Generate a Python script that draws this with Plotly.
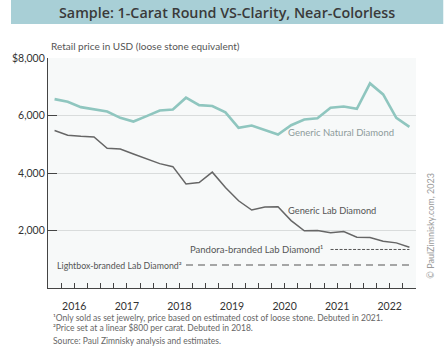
import plotly.graph_objects as go

# ---- data ----
quarters = [2016.125 + 0.25 * i for i in range(28)]
natural = [6570, 6477, 6291, 6221, 6140, 5919, 5791, 5977, 6174, 6209, 6620, 6360,
           6330, 6110, 5570, 5651, 5488, 5337, 5663, 5860, 5907, 6267, 6314, 6233,
           7116, 6733, 5919, 5605]
lab = [5477, 5314, 5279, 5256, 4860, 4837, 4663, 4488, 4326, 4221, 3616, 3670,
       4030, 3494, 3034, 2713, 2816, 2828, 2345, 1990, 2000, 1919, 1965, 1767,
       1756, 1628, 1570, 1419]
pandora_x = [2021.375, 2022.875]
pandora = [1340, 1340]
lightbox_x = [2018.625, 2022.875]
lightbox = [800, 800]

year_labels = ["2016", "2017", "2018", "2019", "2020", "2021", "2022"]
year_pos = [2016.5 + i for i in range(7)]
y_tickvals = [2000, 4000, 6000, 8000]
y_ticktext = ["2,000", "4,000", "6,000", "$8,000"]

FONT = "Lato"
W, H = 444, 363
L, R, T, B = 38, 28, 58, 75
PW, PH = W - L - R, H - T - B


def px(x):
    return (x - L) / PW


def py(y):
    return 1 - (y - T) / PH


fig = go.Figure()
fig.add_trace(go.Scatter(x=quarters, y=natural, mode="lines",
                         line=dict(color="#8fc6bf", width=2.6), hoverinfo="skip"))
fig.add_trace(go.Scatter(x=quarters, y=lab, mode="lines",
                         line=dict(color="#666666", width=1.5), hoverinfo="skip"))
fig.add_trace(go.Scatter(x=pandora_x, y=pandora, mode="lines",
                         line=dict(color="#555555", width=1, dash="3px,1.5px"), hoverinfo="skip"))
fig.add_trace(go.Scatter(x=lightbox_x, y=lightbox, mode="lines",
                         line=dict(color="#555555", width=1.2, dash="7px,5px"), hoverinfo="skip"))

# banner
fig.add_shape(type="rect", xref="paper", yref="paper",
              x0=px(0), x1=px(W), y0=py(24), y1=py(0),
              fillcolor="#a8cfd6", line=dict(width=0), layer="below")

anns = [
    dict(text="Sample: 1-Carat Round VS-Clarity, Near-Colorless", x=px(222), y=py(12.5),
         font=dict(size=14.3, color="#3a3a3a", family="Open Sans", weight=600)),
    dict(text="Retail price in USD (loose stone equivalent)", x=px(39), y=py(46), xanchor="left",
         font=dict(size=10, color="#555555")),
    dict(text="¹Only sold as set jewelry, price based on estimated cost of loose stone. Debuted in 2021.",
         x=px(41), y=py(318), xanchor="left", font=dict(size=8.5, color="#666666")),
    dict(text="²Price set at a linear $800 per carat. Debuted in 2018.",
         x=px(41), y=py(327.5), xanchor="left", font=dict(size=8.5, color="#666666")),
    dict(text="Source: Paul Zimnisky analysis and estimates.",
         x=px(41), y=py(341), xanchor="left", font=dict(size=8.5, color="#666666")),
    dict(text="© PaulZimnisky.com, 2023", x=px(430), y=py(226), textangle=-90,
         font=dict(size=9, color="#9a9a9a")),
]
for a in anns:
    a.setdefault("xanchor", "center")
    fig.add_annotation(xref="paper", yref="paper", showarrow=False, yanchor="middle", **a)

data_anns = [
    dict(text="Generic Natural Diamond", x=2021.57, y=5400, xanchor="center",
         font=dict(size=9.5, color="#8d9b9b")),
    dict(text="Generic Lab Diamond", x=2021.41, y=2680, xanchor="center",
         font=dict(size=9.3, color="#555555")),
    dict(text="Pandora-branded Lab Diamond¹", x=2021.26, y=1340, xanchor="right",
         font=dict(size=9.5, color="#555555")),
    dict(text="Lightbox-branded Lab Diamond²", x=2018.58, y=800, xanchor="right",
         font=dict(size=8.8, color="#555555")),
]
for a in data_anns:
    fig.add_annotation(xref="x", yref="y", showarrow=False, yanchor="middle", **a)

fig.update_layout(
    width=W, height=H, margin=dict(l=L, r=R, t=T, b=B),
    paper_bgcolor="white", plot_bgcolor="#f7f9f9",
    showlegend=False, font=dict(family=FONT, color="#333333"),
    xaxis=dict(range=[2016, 2023], showgrid=False, zeroline=False,
               showline=True, linecolor="#444444", linewidth=1.2,
               tickvals=year_pos, ticktext=year_labels, ticks="inside", ticklen=5,
               tickcolor="#444444", tickfont=dict(size=10.5, color="#333333"),
               ticklabelstandoff=8,
               minor=dict(tickmode="linear", tick0=2016, dtick=0.25, ticks="inside",
                          ticklen=5, tickcolor="#444444", showgrid=False)),
    yaxis=dict(range=[0, 8000], showgrid=True, gridcolor="#d9dcdc", gridwidth=1,
               zeroline=False, showline=True, linecolor="#444444", linewidth=1.2,
               tickvals=y_tickvals, ticktext=y_ticktext, ticks="inside", ticklen=9,
               tickcolor="#444444", tickfont=dict(size=10.5, color="#333333")),
)

fig.write_html("out.html", config={"displayModeBar": False},
               post_script="document.body.style.margin='0';document.body.style.overflow='hidden';")
